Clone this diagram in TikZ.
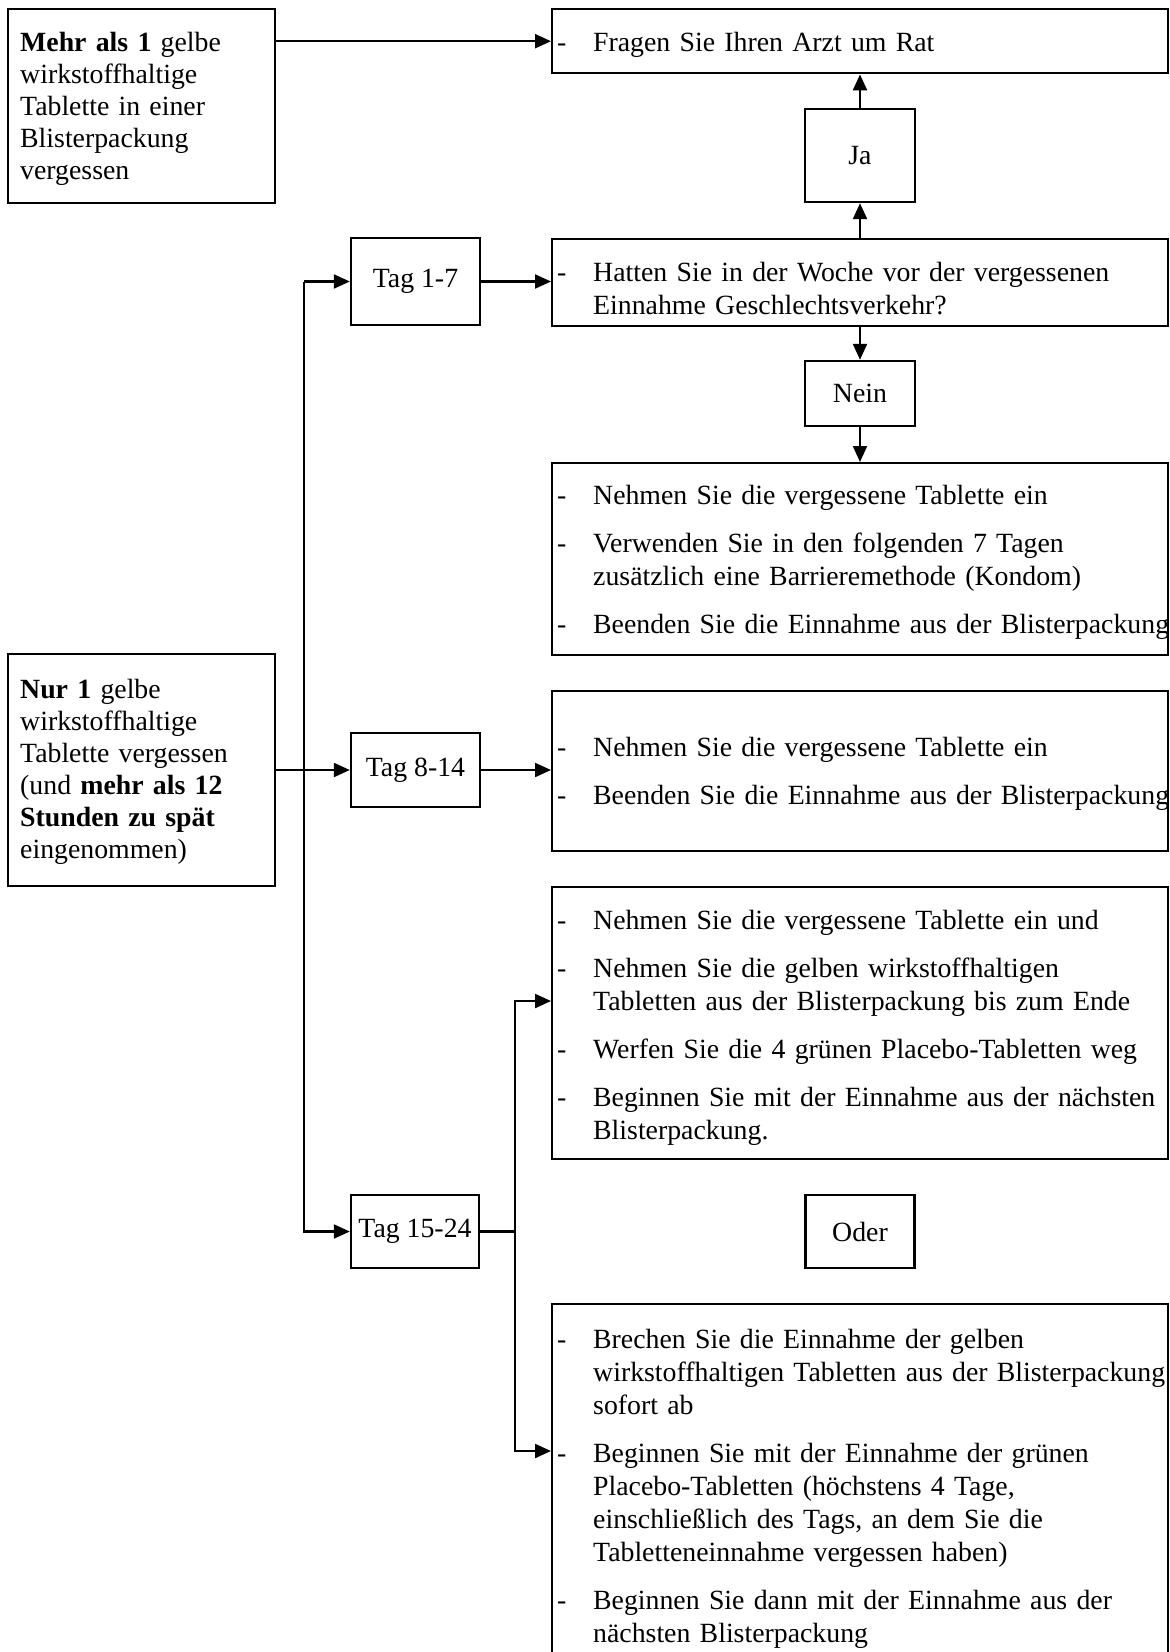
\documentclass[tikz,border=0pt]{standalone}
\usepackage{fontspec}
\setmainfont{Liberation Serif}
\usetikzlibrary{arrows.meta}
\newcommand\itm{\hangindent=41pt\hangafter=1\noindent\hspace*{5pt}\makebox[36pt][l]{-}}
\newcommand\igap{\par\vspace{15pt}}
\newcommand\nl{\hfil\break}
\newcommand\rr{\raggedright\rightskip=-14pt plus 1fil\hyphenpenalty=10000\exhyphenpenalty=10000\hfuzz=20pt\parskip=0pt}
\begin{document}
\begin{tikzpicture}[x=1pt,y=-1pt,
  every node/.style={font=\fontsize{27.8}{33}\selectfont},
  bx/.style={draw, line width=2.4pt, rectangle, inner sep=0pt},
  lst/.style={bx, anchor=north west, text width=616pt, minimum width=616pt, execute at begin node=\rr},
  sml/.style={bx, align=center},
  side/.style={bx, anchor=north west, text width=243pt, inner xsep=12pt, inner ysep=0pt, minimum width=267pt, font=\fontsize{27.8}{32}\selectfont, execute at begin node=\rr},
  arr/.style={line width=2.2pt, -{Triangle[length=16pt,width=14pt]}},
  ln/.style={line width=2.2pt}]
\useasboundingbox (0,0) rectangle (1170,1652);

% left boxes
\node[side, text height=42pt, text depth=152pt] (mehr) at (7,8) {\textbf{Mehr als 1} gelbe\\wirkstoffhaltige\\Tablette in einer\\Blisterpackung\\vergessen};
\node[side, text height=44pt, text depth=188pt] (nur) at (7,653) {\textbf{Nur 1} gelbe\\wirkstoffhaltige\\Tablette vergessen\\(und \textbf{mehr als 12}\\\textbf{Stunden zu spät}\\eingenommen)};

% small boxes
\node[sml, minimum width=129pt, minimum height=87pt] (t17) at (415.5,281.5) {Tag 1-7};
\node[sml, minimum width=129pt, minimum height=74pt] (t814) at (415.5,770) {Tag 8-14};
\node[sml, minimum width=128pt, minimum height=73pt] (t1524) at (415,1231.5) {Tag 15-24};
\node[sml, minimum width=110pt, minimum height=93pt] (ja) at (860,155.5) {Ja};
\node[sml, minimum width=110pt, minimum height=65pt] (nein) at (860,393.5) {Nein};
\node[sml, minimum width=109pt, minimum height=73pt] (oder) at (860,1231.5) {Oder};

% right boxes
\node[lst, text height=42pt, text depth=22pt] (fragen) at (551,8) {\itm Fragen Sie Ihren Arzt um Rat\par};
\node[lst, text height=42pt, text depth=45pt] (hatten) at (551,238) {\itm Hatten Sie in der Woche vor der vergessenen\nl Einnahme Geschlechtsverkehr?\par};
\node[lst, text height=41pt, text depth=151pt] (b3) at (551,462) {\itm Nehmen Sie die vergessene Tablette ein\igap
\itm Verwenden Sie in den folgenden 7 Tagen\nl zusätzlich eine Barrieremethode (Kondom)\igap
\itm Beenden Sie die Einnahme aus der Blisterpackung\par};
\node[lst, text height=65pt, text depth=95pt] (b4) at (551,690) {\itm Nehmen Sie die vergessene Tablette ein\igap
\itm Beenden Sie die Einnahme aus der Blisterpackung\par};
\node[lst, text height=42pt, text depth=230pt] (b5) at (551,886) {\itm Nehmen Sie die vergessene Tablette ein und\igap
\itm Nehmen Sie die gelben wirkstoffhaltigen\nl Tabletten aus der Blisterpackung bis zum Ende\igap
\itm Werfen Sie die 4 grünen Placebo-Tabletten weg\igap
\itm Beginnen Sie mit der Einnahme aus der nächsten\nl Blisterpackung.\par};
\node[lst, text height=44pt, text depth=316pt] (b6) at (551,1303) {\itm Brechen Sie die Einnahme der gelben\nl wirkstoffhaltigen Tabletten aus der Blisterpackung\nl sofort ab\igap
\itm Beginnen Sie mit der Einnahme der grünen\nl Placebo-Tabletten (höchstens 4 Tage,\nl einschließlich des Tags, an dem Sie die\nl Tabletteneinnahme vergessen haben)\igap
\itm Beginnen Sie dann mit der Einnahme aus der\nl nächsten Blisterpackung\par};

% connectors
\draw[arr] (mehr.east |- fragen.west) -- (fragen.west);
\draw[arr] (ja.north) -- (ja.north |- fragen.south);
\draw[arr] (hatten.north -| ja) -- (ja.south);
\draw[arr] (hatten.south -| nein) -- (nein.north);
\draw[arr] (nein.south) -- (nein.south |- b3.north);
\draw[arr] (t17.east) -- (t17.east -| hatten.west);
\coordinate (sp) at (304,281.5);
\draw[arr] (sp) -- (t17.west);
\draw[arr] (sp) |- (t1524.west);
\draw[arr] (nur.east |- t814.west) -- (t814.west);
\draw[arr] (t814.east) -- (t814.east -| b4.west);
\coordinate (fork) at (515,1231.5);
\coordinate (in5) at (551,1001);
\coordinate (in6) at (551,1451);
\draw[ln] (t1524.east) -- (fork);
\draw[arr] (fork) |- (in5);
\draw[arr] (fork) |- (in6);
\end{tikzpicture}
\end{document}
